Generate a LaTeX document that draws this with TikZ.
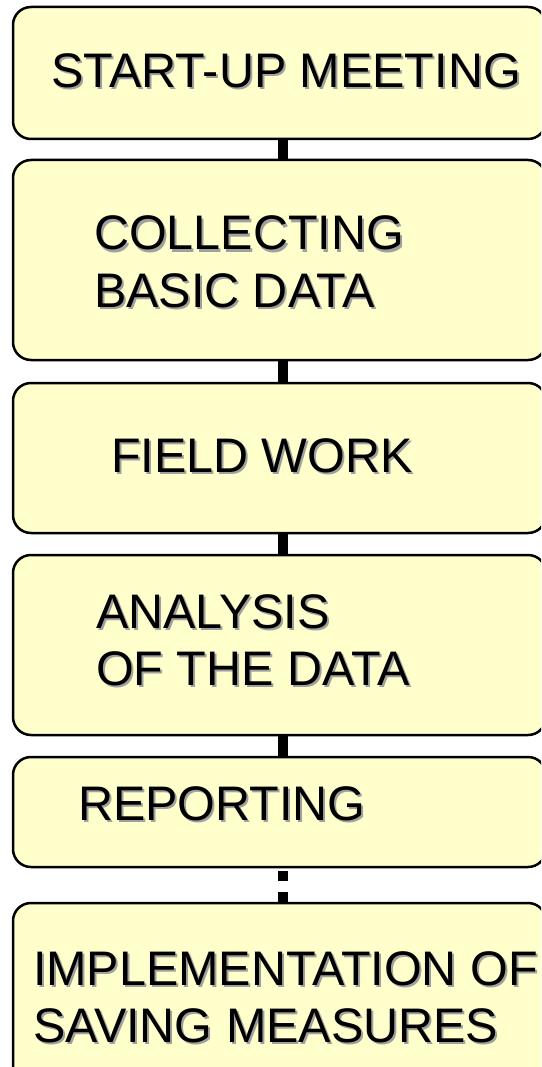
\documentclass[tikz,border=0pt]{standalone}
\usepackage{fontspec}
\setmainfont{Liberation Sans}
\definecolor{boxfill}{HTML}{FFFFCC}
\definecolor{shadowgray}{HTML}{A0A0A0}
\newcommand\shtxt[1]{\rlap{\kern2pt\raisebox{-2pt}{\textcolor{shadowgray}{#1}}}#1}
\begin{document}
\begin{tikzpicture}[x=1pt,y=-1pt,
  stagebox/.style={draw=black, line width=2.5pt, fill=boxfill, rounded corners=18pt,
    rectangle, anchor=north west, inner sep=0pt, outer sep=0pt, minimum width=533pt},
  lbl/.style={anchor=base west, inner sep=0pt, outer sep=0pt, font=\fontsize{48.5}{57}\selectfont},
  conn/.style={draw=black, line width=10pt}]
\useasboundingbox (0,0) rectangle (541,1067);
\clip (0,0) rectangle (541,1067);
\fill[white] (0,0) rectangle (541,1067);

\node[stagebox, minimum height=132pt] (b1) at (13,7) {};
\node[stagebox, minimum height=200pt] (b2) at (13,160) {};
\node[stagebox, minimum height=150pt] (b3) at (13,383) {};
\node[stagebox, minimum height=180pt] (b4) at (13,555) {};
\node[stagebox, minimum height=110pt] (b5) at (13,757) {};
\node[stagebox, minimum height=190pt] (b6) at (13,903) {};

\coordinate (cx) at (283,0);
\draw[conn] (b1.south -| cx) -- (b2.north -| cx);
\draw[conn] (b2.south -| cx) -- (b3.north -| cx);
\draw[conn] (b3.south -| cx) -- (b4.north -| cx);
\draw[conn] (b4.south -| cx) -- (b5.north -| cx);
\draw[conn, dash pattern=on 10pt off 11pt, dash phase=17pt] (b5.south -| cx) -- (b6.north -| cx);

\node[lbl] (t1) at (51,88) {\shtxt{START-UP MEETING}};
\node[lbl] (t2a) at (94,250) {\shtxt{COLLECTING}};
\node[lbl] (t2b) at (94,307) {\shtxt{BASIC DATA}};
\node[lbl] (t3) at (111,472) {\shtxt{FIELD WORK}};
\node[lbl] (t4a) at (96,628) {\shtxt{ANALYSIS}};
\node[lbl] (t4b) at (96,685) {\shtxt{OF THE DATA}};
\node[lbl] (t5) at (78,820) {\shtxt{REPORTING}};
\node[lbl] (t6a) at (33,985) {\shtxt{IMPLEMENTATION OF}};
\node[lbl] (t6b) at (33,1042) {\shtxt{SAVING MEASURES}};
\end{tikzpicture}
\end{document}
